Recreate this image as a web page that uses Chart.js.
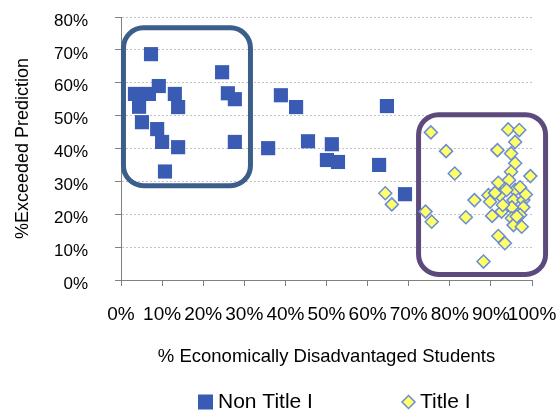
<!DOCTYPE html>
<html><head><meta charset="utf-8">
<script src="https://cdn.jsdelivr.net/npm/chart.js@4/dist/chart.umd.min.js"></script>
<style>html,body{margin:0;padding:0;background:#fff;}</style>
</head><body>
<canvas id="c" width="558" height="412"></canvas>
<script>
// ---- data ----
const seriesNames = ['Non Title I', 'Title I'];
const nonTitleX = [7.3,3.4,6.8,9.2,13.1,4.4,13.9,5.1,8.8,10.0,13.9,10.7,24.6,26.0,27.7,27.7,35.8,38.9,42.6,45.5,51.3,50.1,52.8,64.7,62.8,69.1];
const nonTitleY = [68.7,56.6,56.6,59.0,56.6,52.7,52.6,48.0,45.9,42.0,40.4,33.0,63.2,56.8,55.0,42.0,40.1,56.2,52.6,42.2,41.3,36.5,35.9,52.9,35.0,26.1];
const titleX = [75.4,79.1,81.2,64.3,65.9,74.1,75.6,83.9,86.0,88.2,91.6,94.2,96.9,95.9,94.9,95.9,94.9,99.6,91.8,94.4,89.4,89.8,92.2,95.9,97.1,95.5,97.9,97.9,95.1,92.6,90.3,95.1,97.1,95.5,97.5,91.8,93.4,93.8,92.9,96.3,91.0,98.5];
const titleY = [44.9,39.2,32.4,26.4,23.0,20.8,17.7,19.1,24.3,5.6,39.5,45.8,45.6,42.0,38.5,35.5,32.9,31.6,29.6,30.4,25.8,23.8,25.8,27.4,28.2,24.3,24.3,22.1,22.1,20.8,19.5,18.8,19.8,16.7,16.2,13.4,11.2,27.4,22.8,19.3,26.5,26.0];
const xTicks = [0,10,20,30,40,50,60,70,80,90,100];
const yTicks = [0,10,20,30,40,50,60,70,80];
const xTitle = '% Economically Disadvantaged Students';
const yTitle = '%Exceeded Prediction';

// annotation boxes (data coordinates)
const boxes = [
  {x1:0.6, x2:31.5, y1:76.7, y2:28.7, color:'#3C5E8B'},
  {x1:72.4, x2:103.3, y1:50.3, y2:1.7, color:'#5C4A7D'}
];

const FONT = "'Liberation Sans', Arial, sans-serif";
const SQ_COLOR = '#3A5BB3';
const DIA_FILL = '#FFFF66';
const DIA_BORDER = '#6A8CD6';

const toPts = (xs, ys) => xs.map((x, i) => ({x: x, y: ys[i]}));

function roundRect(ctx, x, y, w, h, r) {
  ctx.beginPath();
  ctx.moveTo(x + r, y);
  ctx.lineTo(x + w - r, y);
  ctx.arcTo(x + w, y, x + w, y + r, r);
  ctx.lineTo(x + w, y + h - r);
  ctx.arcTo(x + w, y + h, x + w - r, y + h, r);
  ctx.lineTo(x + r, y + h);
  ctx.arcTo(x, y + h, x, y + h - r, r);
  ctx.lineTo(x, y + r);
  ctx.arcTo(x, y, x + r, y, r);
  ctx.closePath();
}

const boxPlugin = {
  id: 'boxes',
  beforeDatasetsDraw(chart) {
    const {ctx, scales: {x, y}} = chart;
    ctx.save();
    boxes.forEach(b => {
      const l = x.getPixelForValue(b.x1), r = x.getPixelForValue(b.x2);
      const t = y.getPixelForValue(b.y1), bt = y.getPixelForValue(b.y2);
      ctx.lineWidth = 5;
      ctx.strokeStyle = b.color;
      roundRect(ctx, l, t, r - l, bt - t, 20);
      ctx.stroke();
    });
    ctx.restore();
  }
};

const legendPlugin = {
  id: 'customLegend',
  afterDraw(chart) {
    const ctx = chart.ctx;
    ctx.save();
    ctx.font = '21px ' + FONT;
    ctx.textBaseline = 'alphabetic';
    ctx.textAlign = 'left';
    // item 1: square
    ctx.fillStyle = SQ_COLOR;
    ctx.fillRect(198, 394.5, 15, 15);
    ctx.fillStyle = '#000';
    ctx.fillText(seriesNames[0], 218, 408);
    // item 2: diamond
    const cx = 408.5, cy = 402;
    ctx.beginPath();
    ctx.moveTo(cx, cy - 6.5); ctx.lineTo(cx + 6.5, cy); ctx.lineTo(cx, cy + 6.5); ctx.lineTo(cx - 6.5, cy); ctx.closePath();
    ctx.fillStyle = DIA_FILL; ctx.fill();
    ctx.lineWidth = 1.5; ctx.strokeStyle = DIA_BORDER; ctx.stroke();
    ctx.fillStyle = '#000';
    ctx.fillText(seriesNames[1], 420, 408);
    ctx.restore();
  }
};

new Chart(document.getElementById('c'), {
  type: 'scatter',
  data: {
    datasets: [
      {
        label: seriesNames[0],
        data: toPts(nonTitleX, nonTitleY),
        pointStyle: 'rect',
        pointRadius: 10,
        pointHoverRadius: 10,
        backgroundColor: SQ_COLOR,
        borderColor: SQ_COLOR,
        borderWidth: 0,
        clip: false
      },
      {
        label: seriesNames[1],
        data: toPts(titleX, titleY),
        pointStyle: 'rectRot',
        pointRadius: 6.5,
        pointHoverRadius: 6.5,
        backgroundColor: DIA_FILL,
        borderColor: DIA_BORDER,
        borderWidth: 1.5,
        clip: false
      }
    ]
  },
  options: {
    responsive: false,
    animation: false,
    devicePixelRatio: 1,
    layout: {padding: {left: 0, right: 26, top: 17, bottom: 0}},
    plugins: {legend: {display: false}, tooltip: {enabled: false}},
    scales: {
      x: {
        type: 'linear', min: 0, max: 100,
        afterBuildTicks: s => { s.ticks = xTicks.map(v => ({value: v})); },
        afterFit: s => { s.height = 132; s.paddingLeft = 0; s.paddingRight = 0; },
        ticks: {
          autoSkip: false, maxRotation: 0, minRotation: 0,
          padding: 17, color: '#000',
          font: {family: FONT, size: 19},
          callback: v => v + '%'
        },
        grid: {drawOnChartArea: false, drawTicks: true, tickLength: 6, tickColor: '#808080', tickWidth: 1},
        border: {display: true, color: '#808080', width: 1},
        title: {display: true, text: xTitle, color: '#000', font: {family: FONT, size: 18.5}, padding: {top: 0, bottom: 44}}
      },
      y: {
        type: 'linear', min: 0, max: 80,
        afterBuildTicks: s => { s.ticks = yTicks.map(v => ({value: v})); },
        afterFit: s => { s.width = 121; s.paddingTop = 0; s.paddingBottom = 0; },
        ticks: {
          padding: 27, color: '#000', labelOffset: 4,
          font: {family: FONT, size: 17},
          callback: v => v + '%'
        },
        grid: {color: '#C4C4C4', lineWidth: 1, drawTicks: true, tickLength: 6, tickColor: '#808080', tickWidth: 1},
        border: {display: true, color: '#808080', width: 1, dash: [2, 2]},
        title: {display: true, text: yTitle, color: '#000', font: {family: FONT, size: 18}, padding: {top: 12, bottom: 0}}
      }
    }
  },
  plugins: [boxPlugin, legendPlugin]
});
</script>
</body></html>
